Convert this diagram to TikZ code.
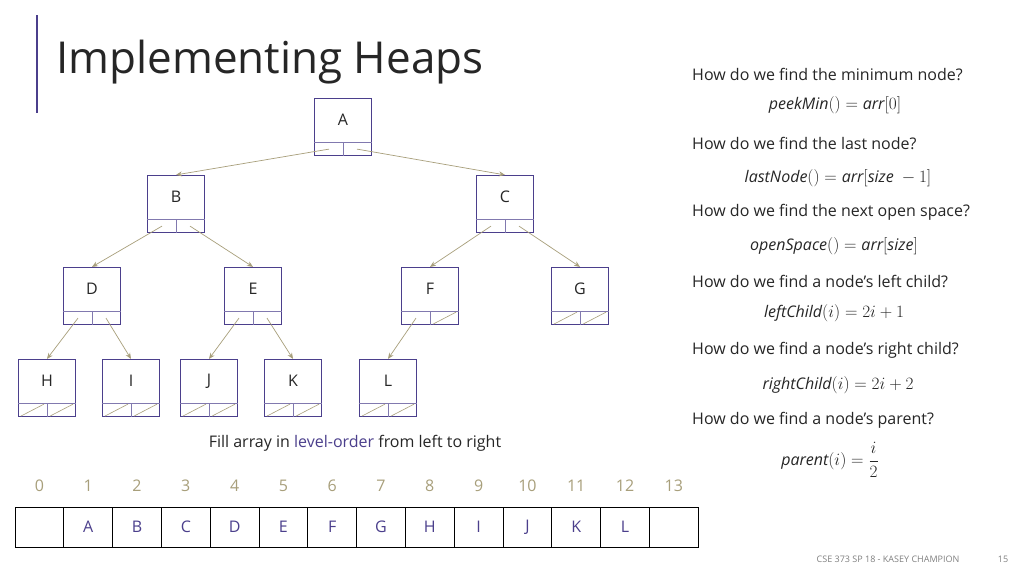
\documentclass[tikz,border=0pt]{standalone}
\usepackage{fontspec}
\setmainfont{Open Sans}
\usetikzlibrary{arrows.meta}
\definecolor{pur}{HTML}{4B3F8C}
\definecolor{tan}{HTML}{A89F7B}
\definecolor{txt}{HTML}{262626}
\tikzset{
 hbox/.style={draw=pur,line width=1.2pt,minimum width=57pt,minimum height=57pt,inner sep=0},
 inner/.style={draw=pur!70,line width=0.8pt},
 nul/.style={draw=tan,line width=0.6pt},
 ptr/.style={draw=tan,line width=0.7pt,-{Stealth[length=6pt,width=5pt]}},
 q/.style={anchor=west,font=\fontsize{16}{18}\selectfont,text=txt,inner sep=0},
 fm/.style={font=\fontsize{16}{18}\selectfont,text=txt,inner sep=0},
 cell/.style={draw=black,line width=0.8pt,minimum width=48.8pt,minimum height=40pt,inner sep=0,text=pur,font=\fontsize{16}{18}\selectfont},
 idx/.style={text=tan,font=\fontsize{16}{18}\selectfont,inner sep=0}
}
\newcommand\hn[6]{%
 \node[hbox] (#1) at (#2,#3) {};
 \node[text=txt,font=\fontsize{16}{18}\selectfont] (#1t) at ([yshift=7]#1.center) {#4};
 \draw[inner] ([yshift=14]#1.south west) -- ([yshift=14]#1.south east);
 \draw[inner] (#1.south) -- ([yshift=14]#1.south);
 \ifnum#5=1 \draw[nul] ([xshift=3,yshift=1]#1.south west) -- ([xshift=-3,yshift=13]#1.south);\fi
 \ifnum#6=1 \draw[nul] ([xshift=3,yshift=1]#1.south) -- ([xshift=-3,yshift=13]#1.south east);\fi
}
\begin{document}
\begin{tikzpicture}[x=1pt,y=-1pt]
\useasboundingbox (0,0) rectangle (1024,576);
\fill[white] (0,0) rectangle (1024,576);
\draw[pur,line width=1.5pt] (37,15) -- (37,113);
\node[anchor=west,font=\fontsize{44}{50}\selectfont,text=txt,inner sep=0] (title) at (56,62) {Implementing Heaps};
% tree
\hn{A}{343}{127}{A}{0}{0}
\hn{B}{176}{204}{B}{0}{0}
\hn{C}{505}{204}{C}{0}{0}
\hn{D}{92}{296}{D}{0}{0}
\hn{E}{253}{296}{E}{0}{0}
\hn{F}{430}{296}{F}{0}{1}
\hn{G}{580}{296}{G}{1}{1}
\hn{H}{47}{388}{H}{1}{1}
\hn{I}{131}{388}{I}{1}{1}
\hn{J}{209}{388}{J}{1}{1}
\hn{K}{293}{388}{K}{1}{1}
\hn{L}{388}{388}{L}{1}{1}
\foreach \p/\l/\r in {A/B/C,B/D/E,C/F/G,D/H/I,E/J/K}{
 \draw[ptr] ([xshift=-14,yshift=7]\p.south) -- (\l.north);
 \draw[ptr] ([xshift=14,yshift=7]\p.south) -- (\r.north);
}
\draw[ptr] ([xshift=-14,yshift=7]F.south) -- (L.north);
% caption
\node[font=\fontsize{16}{18}\selectfont,text=txt] (cap) at (355,443) {Fill array in \textcolor{pur}{level-order} from left to right};
% array
\foreach \i/\t in {0/,1/A,2/B,3/C,4/D,5/E,6/F,7/G,8/H,9/I,10/J,11/K,12/L,13/}{
 \node[cell] (c\i) at (39.4+48.8*\i,527) {\t};
 \node[idx] (n\i) at (39.4+48.8*\i,486) {\i};
}
% right text
\node[q] (q1) at (692,74) {How do we find the minimum node?};
\node[fm] (f1) at (835,105) {$\mathit{peekMin}() = \mathit{arr}[0]$};
\node[q] (q2) at (692,143) {How do we find the last node?};
\node[fm] (f2) at (838,178) {$\mathit{lastNode}() = \mathit{arr}[\mathit{size}\ -1]$};
\node[q] (q3) at (692,212) {How do we find the next open space?};
\node[fm] (f3) at (834,246) {$\mathit{openSpace}() = \mathit{arr}[\mathit{size}]$};
\node[q] (q4) at (692,281) {How do we find a node’s left child?};
\node[fm] (f4) at (834,313) {$\mathit{leftChild}(i) = 2i+1$};
\node[q] (q5) at (692,350) {How do we find a node’s right child?};
\node[fm] (f5) at (838,385) {$\mathit{rightChild}(i) = 2i+2$};
\node[q] (q6) at (692,420) {How do we find a node’s parent?};
\node[fm] (f6) at (830,460) {$\mathit{parent}(i) = \displaystyle\frac{i}{2}$};
% footer
\node[font=\fontsize{9}{10}\selectfont,text=gray] (ft) at (888,559) {CSE 373 SP 18 - KASEY CHAMPION};
\node[font=\fontsize{9}{10}\selectfont,text=gray] (pg) at (1003,559) {15};
\end{tikzpicture}
\end{document}
